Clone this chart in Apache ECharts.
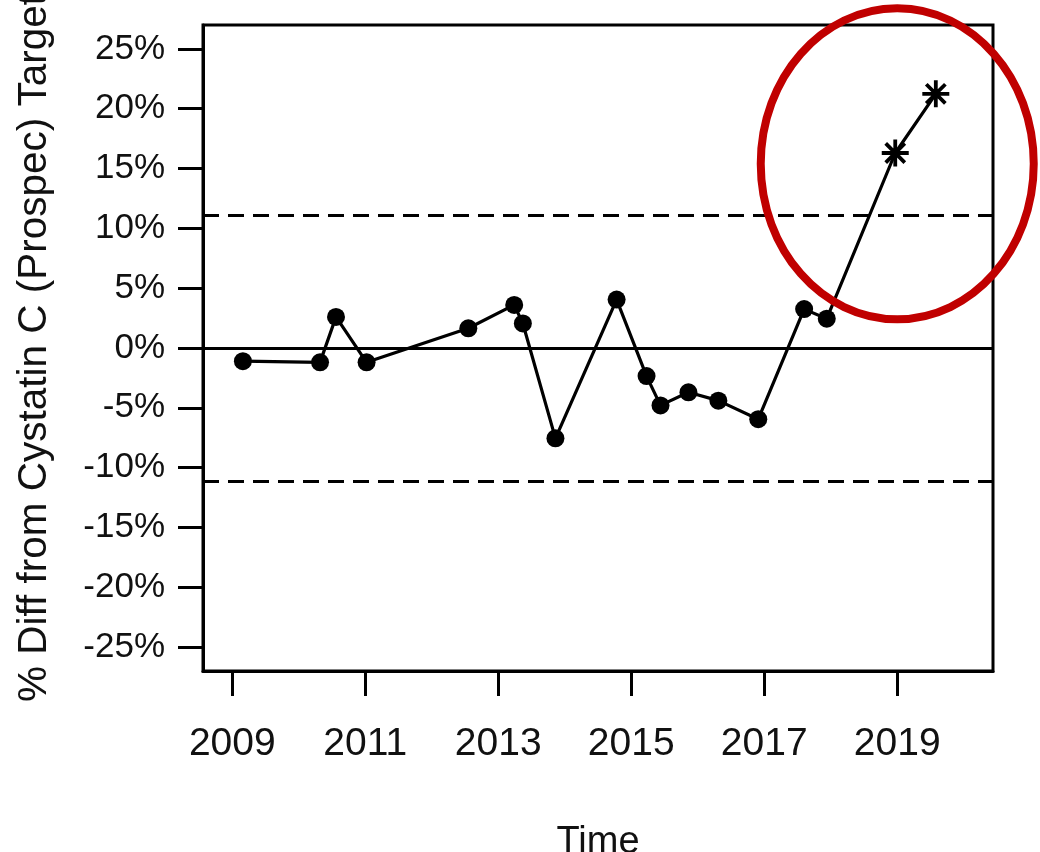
<!DOCTYPE html>
<html><head><meta charset="utf-8">
<script src="https://cdn.jsdelivr.net/npm/echarts@6/dist/echarts.min.js"></script>
<style>html,body{margin:0;padding:0;background:#fff}#c{width:1040px;height:852px}</style>
</head><body><div id="c"></div><script>
// ---- data ----
const years  = [2009.16, 2010.32, 2010.56, 2011.02, 2012.55, 2013.24, 2013.37, 2013.86, 2014.78,
                2015.23, 2015.44, 2015.86, 2016.31, 2016.91, 2017.60, 2017.94, 2018.97, 2019.58];
const values = [-1.1, -1.2, 2.6, -1.2, 1.65, 3.6, 2.05, -7.55, 4.05,
                -2.35, -4.8, -3.7, -4.4, -5.95, 3.25, 2.45, 16.3, 21.25];
const markers = ['circle','circle','circle','circle','circle','circle','circle','circle','circle',
                 'circle','circle','circle','circle','circle','circle','circle','star','star'];
const xTicks = [2009, 2011, 2013, 2015, 2017, 2019];
const yTicks = [-25, -20, -15, -10, -5, 0, 5, 10, 15, 20, 25];
const zeroLine = 0;
const limitLines = [11.1, -11.1];
const highlightCenter = [2019.0, 15.4];
const xTitle = 'Time';
const yTitle = '% Diff from Cystatin C (Prospec) Target';

const FONT = 'Liberation Sans, Arial, Helvetica, sans-serif';
const circlePts = [], starPts = [];
years.forEach((x, i) => (markers[i] === 'star' ? starPts : circlePts).push([x, values[i]]));
const linePts = years.map((x, i) => [x, values[i]]);

const chart = echarts.init(document.getElementById('c'), null, {renderer: 'canvas'});
chart.setOption({
  animation: false,
  backgroundColor: '#fff',
  grid: {left: 203, right: 47, top: 25, bottom: 181, show: true, outerBoundsMode: 'none',
         containLabel: false,
         borderColor: '#000', borderWidth: 3, backgroundColor: 'transparent'},
  xAxis: {
    type: 'value', min: 2008.56, max: 2020.44,
    name: xTitle, nameLocation: 'middle', nameGap: 153,
    nameTextStyle: {fontFamily: FONT, fontSize: 38, color: '#111'},
    axisLine: {show: true, onZero: false, lineStyle: {color: '#000', width: 3}},
    axisTick: {show: true, inside: false, length: 25, lineStyle: {color: '#000', width: 3}, customValues: xTicks},
    axisLabel: {fontFamily: FONT, fontSize: 39, color: '#111', margin: 54, customValues: xTicks,
                formatter: v => String(v)},
    splitLine: {show: false}
  },
  yAxis: {
    type: 'value', min: -27, max: 27,
    name: yTitle, nameLocation: 'middle', nameGap: 148, nameRotate: 90,
    nameTextStyle: {fontFamily: FONT, fontSize: 40.5, color: '#111'},
    axisLine: {show: true, onZero: false, lineStyle: {color: '#000', width: 3}},
    axisTick: {show: true, inside: false, length: 25, lineStyle: {color: '#000', width: 3}, customValues: yTicks},
    axisLabel: {fontFamily: FONT, fontSize: 35, color: '#111', margin: 38, customValues: yTicks,
                formatter: v => v + '%'},
    splitLine: {show: false}
  },
  series: [
    {
      type: 'line', data: linePts, showSymbol: false, symbol: 'none',
      lineStyle: {color: '#000', width: 3.2}, z: 3,
      markLine: {
        silent: true, symbol: 'none', label: {show: false},
        data: [
          {yAxis: zeroLine, lineStyle: {color: '#000', width: 2.8, type: 'solid'}},
          ...limitLines.map(v => ({yAxis: v, lineStyle: {color: '#000', width: 3, type: [16, 9]}}))
        ]
      }
    },
    {
      type: 'scatter', data: circlePts, symbol: 'circle', symbolSize: 18,
      itemStyle: {color: '#000', opacity: 1}, z: 4
    },
    {
      type: 'scatter', data: starPts,
      symbol: 'path://M0,-10L0,10M-10,0L10,0M-7.07,-7.07L7.07,7.07M-7.07,7.07L7.07,-7.07',
      symbolSize: 27,
      itemStyle: {color: '#000', borderColor: '#000', borderWidth: 3.8, opacity: 1}, z: 4
    }
  ]
});

const c = chart.convertToPixel({gridIndex: 0}, highlightCenter);
chart.setOption({
  graphic: [{
    type: 'ellipse', z: 100, silent: true,
    shape: {cx: c[0], cy: c[1], rx: 136.5, ry: 155.5},
    style: {fill: 'none', stroke: '#c00000', lineWidth: 8}
  }]
});
</script></body></html>
